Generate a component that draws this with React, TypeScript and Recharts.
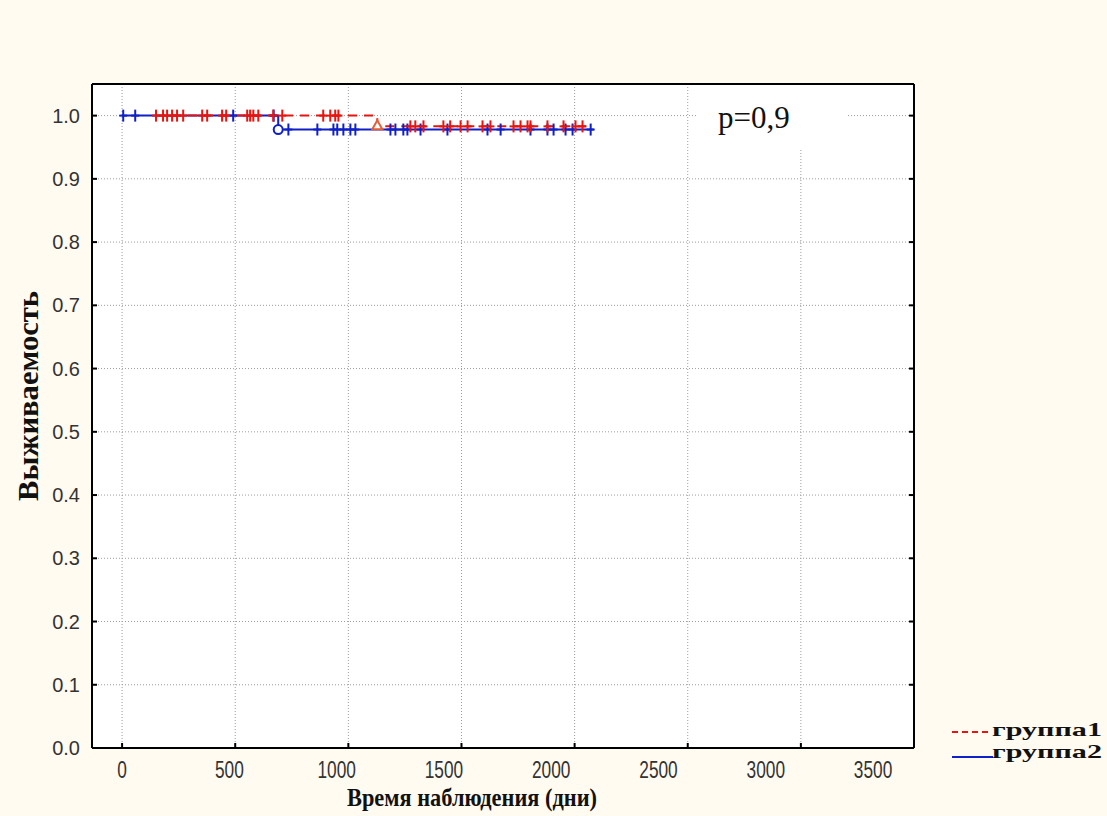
import {
  ComposedChart,
  Line,
  Scatter,
  XAxis,
  YAxis,
  CartesianGrid,
  Legend,
  Label,
} from "recharts";

const X_TICKS = [0, 500, 1000, 1500, 2000, 2500, 3000, 3500];
const Y_TICKS = [0, 0.1, 0.2, 0.3, 0.4, 0.5, 0.6, 0.7, 0.8, 0.9, 1.0];

// Kaplan-Meier step curves (time in days, survival)
const G1_CURVE_T = [150, 1128, 2050];
const G1_CURVE_S = [1, 0.983, 0.983];
const G2_CURVE_T = [0, 690, 2084];
const G2_CURVE_S = [1, 0.978, 0.978];

// censored observations
const G1_CENSOR_T = [
  150, 181, 199, 221, 243, 270, 354, 376, 442, 460, 553, 566, 580, 602, 668, 708, 889, 920, 942,
  956, 1274, 1296, 1332, 1420, 1450, 1496, 1527, 1593, 1628, 1730, 1761, 1792, 1805, 1880, 1951,
  2004, 2035,
];
const G2_CENSOR_T = [
  5, 58, 491, 670, 735, 863, 934, 951, 978, 1009, 1031, 1186, 1208, 1243, 1261, 1319, 1438, 1615,
  1673, 1805, 1880, 1907, 1960, 1991, 2071,
];

// complete events
const G1_EVENT_T = [1128];
const G2_EVENT_T = [690];

const RED = "#e8140f";
const BLUE = "#1020c8";
const FONT_SERIF = "'Liberation Serif', 'Times New Roman', serif";
const FONT_SANS = "'Liberation Sans', Arial, sans-serif";

const stepValue = (ts: number[], ss: number[], t: number) => {
  let v = ss[0];
  ts.forEach((tt, i) => {
    if (t >= tt) v = ss[i];
  });
  return v;
};

const curve = (ts: number[], ss: number[]) => ts.map((t, i) => ({ t, s: ss[i] }));
const marks = (times: number[], ts: number[], ss: number[]) =>
  times.map((t) => ({ t, s: stepValue(ts, ss, t) }));

const g1Curve = curve(G1_CURVE_T, G1_CURVE_S);
const g2Curve = curve(G2_CURVE_T, G2_CURVE_S);
const g1Censor = marks(G1_CENSOR_T, G1_CURVE_T, G1_CURVE_S);
const g2Censor = marks(G2_CENSOR_T, G2_CURVE_T, G2_CURVE_S);
const g1Event = marks(G1_EVENT_T, G1_CURVE_T, G1_CURVE_S);
const g2Event = marks(G2_EVENT_T, G2_CURVE_T, G2_CURVE_S);

const censorShape = (color: string) => (p: any) => (
  <g stroke={color} strokeWidth={2}>
    <line x1={p.cx} x2={p.cx} y1={p.cy - 6} y2={p.cy + 6} />
    <line x1={p.cx - 4} x2={p.cx + 4} y1={p.cy} y2={p.cy} />
  </g>
);

const circleShape = (p: any) => (
  <circle cx={p.cx} cy={p.cy} r={4.5} fill="#fff" stroke={BLUE} strokeWidth={2} />
);

const triangleShape = (p: any) => (
  <path
    d={`M${p.cx},${p.cy - 6} L${p.cx + 5},${p.cy + 3} L${p.cx - 5},${p.cy + 3} Z`}
    fill="#fff"
    stroke="#e0603a"
    strokeWidth={2}
  />
);

function XTick(props: any) {
  const { x, y, payload } = props;
  // labels in the original sit slightly left of their grid lines, in a narrow face
  const lx = x - payload.value * 0.0117;
  return (
    <text
      transform={`translate(${lx}, ${y}) scale(0.72, 1)`}
      dy="0.71em"
      textAnchor="middle"
      fontFamily={FONT_SANS}
      fontSize={24}
      fill="#333"
    >
      {payload.value}
    </text>
  );
}

const EmptyTick = () => <g />;

function XTitle(props: any) {
  const vb = props.viewBox;
  return (
    <text
      x={vb.x + vb.width / 2 - 31}
      y={vb.y + 58}
      textAnchor="middle"
      fontFamily={FONT_SERIF}
      fontWeight="bold"
      fontSize={25}
      textLength={250}
      lengthAdjust="spacingAndGlyphs"
      fill="#111"
    >
      Время наблюдения  (дни)
    </text>
  );
}

function YTitle(props: any) {
  const vb = props.viewBox;
  const cx = vb.x + 38;
  const cy = vb.y + vb.height / 2 - 20;
  return (
    <text
      x={cx}
      y={cy}
      transform={`rotate(-90, ${cx}, ${cy})`}
      textAnchor="middle"
      fontFamily={FONT_SERIF}
      fontWeight="bold"
      fontSize={30}
      textLength={210}
      lengthAdjust="spacingAndGlyphs"
      fill="#111"
    >
      Выживаемость
    </text>
  );
}

function LegendBox(props: any) {
  const items = (props.payload || [])
    .filter((e: any) => e.type !== "none")
    .slice()
    .sort((a: any, b: any) => String(a.value).localeCompare(String(b.value)));
  return (
    <svg width={162} height={50} style={{ display: "block", overflow: "visible" }}>
      {items.map((e: any, i: number) => {
        const lineY = i === 0 ? 12 : 37;
        const textY = i === 0 ? 16 : 38;
        return (
          <g key={e.value}>
            <line
              x1={7}
              x2={i === 0 ? 45 : 48}
              y1={lineY}
              y2={lineY}
              stroke={e.color}
              strokeWidth={2}
              strokeDasharray={e.payload?.strokeDasharray ? "6 4" : undefined}
            />
            <text
              x={47}
              y={textY}
              fontFamily={FONT_SERIF}
              fontWeight="bold"
              fontSize={19}
              textLength={110}
              lengthAdjust="spacingAndGlyphs"
              fill="#111"
            >
              {e.value}
            </text>
          </g>
        );
      })}
    </svg>
  );
}

export default function App() {
  return (
    <div
      style={{
        position: "absolute",
        left: 0,
        top: 0,
        width: 1107,
        height: 816,
        background: "#fffbf0",
      }}
    >
      <ComposedChart width={1107} height={816} margin={{ top: 83, right: 192, bottom: 28, left: 0 }}>
        <CartesianGrid stroke="#9c9c9c" strokeDasharray="1 2" fill="#ffffff" />
        <XAxis
          dataKey="t"
          type="number"
          domain={[-133, 3500]}
          allowDataOverflow
          ticks={X_TICKS}
          height={40}
          axisLine={{ stroke: "#000", strokeWidth: 2 }}
          tickLine={{ stroke: "#000", strokeWidth: 2 }}
          tickSize={-5}
          tickMargin={18}
          tick={<XTick />}
        >
          <Label content={<XTitle />} />
        </XAxis>
        <XAxis
          xAxisId="top"
          orientation="top"
          type="number"
          domain={[-133, 3500]}
          allowDataOverflow
          ticks={X_TICKS}
          height={1}
          axisLine={{ stroke: "#000", strokeWidth: 2 }}
          tickLine={{ stroke: "#000", strokeWidth: 2 }}
          tickSize={-5}
          tick={<EmptyTick />}
        />
        <YAxis
          dataKey="s"
          type="number"
          domain={[0, 1.05]}
          allowDataOverflow
          ticks={Y_TICKS}
          width={92}
          axisLine={{ stroke: "#000", strokeWidth: 2 }}
          tickLine={{ stroke: "#000", strokeWidth: 2 }}
          tickSize={-5}
          tickMargin={17}
          tickFormatter={(v: number) => v.toFixed(1)}
          tick={{ fontSize: 20, fill: "#333", fontFamily: FONT_SANS }}
        >
          <Label content={<YTitle />} />
        </YAxis>
        <YAxis
          yAxisId="right"
          orientation="right"
          type="number"
          domain={[0, 1.05]}
          allowDataOverflow
          ticks={Y_TICKS}
          width={1}
          axisLine={{ stroke: "#000", strokeWidth: 2 }}
          tickLine={{ stroke: "#000", strokeWidth: 2 }}
          tickSize={-5}
          tick={<EmptyTick />}
        />
        <Legend
          verticalAlign="top"
          content={<LegendBox />}
          wrapperStyle={{ left: 945, top: 720, width: 162, height: 0, overflow: "visible" }}
        />
        <Line
          data={g2Curve}
          dataKey="s"
          name="группа2"
          type="stepAfter"
          stroke={BLUE}
          strokeWidth={2}
          dot={false}
          isAnimationActive={false}
        />
        <Line
          data={g1Curve}
          dataKey="s"
          name="группа1"
          type="stepAfter"
          stroke={RED}
          strokeWidth={2}
          strokeDasharray="9 7"
          dot={false}
          isAnimationActive={false}
        />
        <Scatter data={g2Censor} legendType="none" shape={censorShape(BLUE)} isAnimationActive={false} />
        <Scatter data={g1Censor} legendType="none" shape={censorShape(RED)} isAnimationActive={false} />
        <Scatter data={g2Event} legendType="none" shape={circleShape} isAnimationActive={false} />
        <Scatter data={g1Event} legendType="none" shape={triangleShape} isAnimationActive={false} />
      </ComposedChart>
      <div
        style={{
          position: "absolute",
          left: 697,
          top: 85,
          width: 150,
          height: 63,
          background: "#ffffff",
        }}
      />
      <div
        style={{
          position: "absolute",
          left: 718,
          top: 102,
          fontFamily: FONT_SERIF,
          fontSize: 31,
          lineHeight: 1,
          color: "#111",
          whiteSpace: "nowrap",
        }}
      >
        p=0,9
      </div>
    </div>
  );
}
